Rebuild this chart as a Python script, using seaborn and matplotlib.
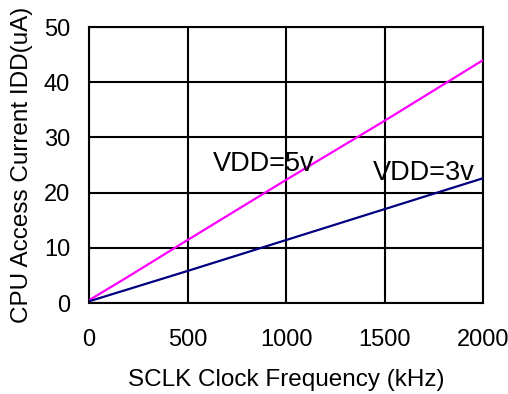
import matplotlib
matplotlib.use('Agg')
import matplotlib.pyplot as plt
import seaborn as sns
import pandas as pd

# --- DATOS ---
freq_khz = [0, 200, 500, 1000, 1500, 2000]
idd_5v = [0.5, 4.8, 11.4, 22.3, 33.0, 44.0]
idd_3v = [0.3, 2.5, 5.8, 11.4, 17.0, 22.6]
x_ticks = [0, 500, 1000, 1500, 2000]
y_ticks = [0, 10, 20, 30, 40, 50]

df = pd.DataFrame({
    'freq': freq_khz * 2,
    'idd': idd_5v + idd_3v,
    'vdd': ['5v'] * len(freq_khz) + ['3v'] * len(freq_khz),
})

sns.set_style("white")
plt.rcParams['font.family'] = ['Liberation Sans', 'DejaVu Sans']
plt.rcParams['text.color'] = 'black'
plt.rcParams['axes.labelcolor'] = 'black'
plt.rcParams['xtick.color'] = 'black'
plt.rcParams['ytick.color'] = 'black'

fig = plt.figure(figsize=(5.08, 3.94), dpi=100)
ax = fig.add_axes([89 / 508, 1 - 303 / 394, 394 / 508, 276 / 394])

sns.lineplot(data=df, x='freq', y='idd', hue='vdd',
             palette={'5v': '#FF00FF', '3v': '#000080'},
             linewidth=1.6, legend=False, ax=ax, zorder=3)

ax.set_xlim(0, 2000)
ax.set_ylim(0, 50)
ax.set_xticks(x_ticks)
ax.set_yticks(y_ticks)
ax.grid(True, color='black', linewidth=1.5)
ax.set_axisbelow(True)
for s in ax.spines.values():
    s.set_color('black')
    s.set_linewidth(1.5)
ax.tick_params(length=0, labelsize=17)
ax.tick_params(axis='x', pad=19)
ax.tick_params(axis='y', pad=13.5)

ax.set_xlabel("SCLK Clock Frequency (kHz)", fontsize=17.5, labelpad=13)
ax.set_ylabel("CPU Access Current IDD(uA)", fontsize=17.5, labelpad=8)

ax.text(629, 25.2, "VDD=5v", fontsize=19.5, va='center', ha='left', zorder=4)
ax.text(1442, 23.5, "VDD=3v", fontsize=19.5, va='center', ha='left', zorder=4)

plt.savefig("out.png", dpi=100)
plt.close()
